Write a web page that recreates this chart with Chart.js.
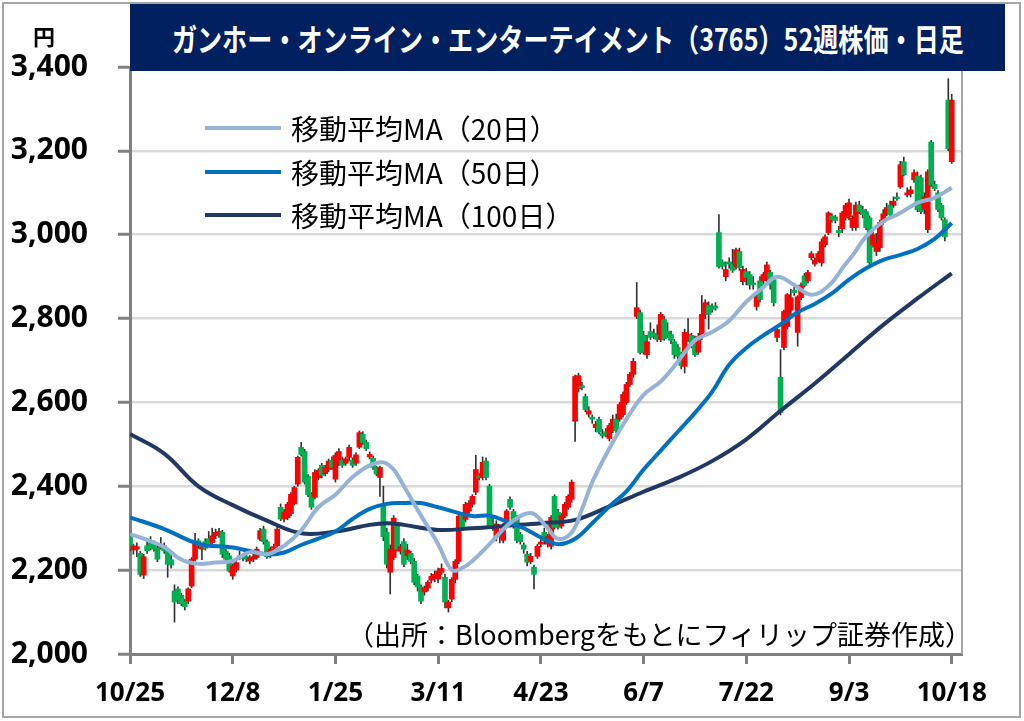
<!DOCTYPE html>
<html lang="ja">
<head>
<meta charset="utf-8">
<title>ガンホー・オンライン・エンターテイメント 52週株価</title>
<script src="https://cdn.jsdelivr.net/npm/chart.js@4.4.1/dist/chart.umd.min.js"></script>
<style>
  html, body { margin: 0; padding: 0; background: #fff; }
  #wrap { position: relative; width: 1024px; height: 721px; overflow: hidden; font-family: 'Noto Sans CJK JP', sans-serif; color: #000; }
  #chart { position: absolute; left: 0; top: 0; }
  #frame { position: absolute; left: 2px; top: 2px; width: 1019px; height: 716px; box-sizing: border-box; border: 2px solid #a6a6a6; pointer-events: none; }
  #title { position: absolute; left: 130px; top: 4px; width: 875px; height: 67px; background: #002060; color: #fff; display: flex; align-items: center; justify-content: center; overflow: hidden; }
  #title span { display: inline-block; font-weight: bold; font-size: 31px; transform: scaleX(0.81); white-space: nowrap; }
  #unit { position: absolute; left: 33px; top: 24px; font-size: 22px; font-weight: bold; line-height: 1; }
  .leg { position: absolute; left: 205px; height: 32px; display: flex; align-items: center; font-size: 28px; white-space: nowrap; }
  .leg i { display: inline-block; width: 76px; height: 4px; margin-right: 10px; }
  #source { position: absolute; right: 52px; top: 618px; font-size: 27px; line-height: 32px; white-space: nowrap; }
</style>
</head>
<body>
<div id="wrap">
  <canvas id="chart" width="1024" height="721"></canvas>
  <div id="title"><span>ガンホー・オンライン・エンターテイメント（3765）52週株価・日足</span></div>
  <div id="unit">円</div>
  <div class="leg" style="top:112px"><i style="background:#95b3d7"></i>移動平均MA（20日）</div>
  <div class="leg" style="top:156px"><i style="background:#0070c0"></i>移動平均MA（50日）</div>
  <div class="leg" style="top:199px"><i style="background:#1f3864"></i>移動平均MA（100日）</div>
  <div id="source">（出所：Bloombergをもとにフィリップ証券作成）</div>
  <div id="frame"></div>
</div>
<script>
// 日足（10/25 〜 10/18、241営業日）
const opens = [
  2280,2248,2250,2240,2188,2258,2265,2262,2252,2254,
  2258,2246,2225,2150,2155,2140,2125,2126,2162,2226,
  2270,2250,2268,2275,2266,2282,2286,2290,2245,2234,
  2186,2200,2234,2234,2232,2222,2226,2230,2274,2298,
  2268,2238,2252,2258,2350,2322,2325,2335,2358,2405,
  2493,2483,2424,2380,2374,2420,2450,2430,2440,2462,
  2417,2457,2462,2455,2469,2462,2455,2493,2524,2505,
  2470,2467,2445,2421,2357,2290,2195,2230,2305,2245,
  2268,2235,2240,2221,2186,2160,2148,2157,2176,2180,
  2179,2195,2183,2110,2131,2178,2221,2329,2321,2341,
  2357,2386,2425,2421,2460,2400,2310,2280,2285,2271,
  2310,2369,2340,2326,2285,2260,2238,2220,2207,2233,
  2262,2290,2262,2257,2376,2338,2305,2329,2350,2369,
  2555,2633,2640,2614,2572,2565,2540,2560,2526,2530,
  2514,2533,2560,2560,2571,2600,2643,2667,2805,2814,
  2760,2714,2769,2765,2760,2750,2798,2770,2762,2745,
  2731,2714,2686,2752,2760,2752,2720,2757,2810,2832,
  2828,2830,3005,2935,2900,2935,2930,2924,2960,2888,
  2912,2905,2885,2829,2890,2890,2893,2910,2893,2755,
  2660,2731,2781,2820,2868,2767,2850,2902,2890,2945,
  2930,2940,2933,2976,3005,3045,3042,3010,3014,3040,
  3043,3017,3017,3071,3060,3055,3040,2976,2960,2969,
  3030,3050,3071,3070,3090,3114,3174,3095,3098,3131,
  3140,3136,3060,3012,3221,3120,3100,3070,3036,3321,
  3174
];
const highs = [
  2290,2262,2265,2245,2238,2270,2280,2270,2258,2278,
  2265,2250,2235,2165,2160,2145,2130,2158,2230,2288,
  2275,2262,2275,2292,2300,2298,2300,2295,2250,2240,
  2215,2222,2245,2240,2238,2235,2240,2255,2300,2305,
  2272,2255,2262,2305,2358,2345,2362,2385,2400,2472,
  2505,2488,2428,2385,2440,2442,2455,2450,2465,2470,
  2480,2490,2470,2470,2498,2468,2480,2532,2530,2510,
  2482,2472,2448,2448,2400,2300,2260,2330,2312,2262,
  2275,2262,2245,2228,2190,2165,2162,2175,2192,2198,
  2205,2215,2190,2128,2182,2225,2335,2335,2362,2366,
  2380,2474,2430,2470,2468,2405,2330,2318,2292,2312,
  2345,2375,2345,2330,2290,2265,2245,2240,2212,2262,
  2275,2300,2285,2330,2380,2345,2335,2362,2380,2415,
  2665,2670,2648,2620,2590,2570,2555,2565,2535,2538,
  2550,2570,2572,2600,2625,2648,2672,2705,2886,2820,
  2770,2760,2790,2775,2785,2815,2805,2790,2770,2750,
  2738,2720,2775,2800,2765,2758,2765,2855,2845,2840,
  2835,2838,3048,2940,2935,2945,2965,2968,2968,2925,
  2920,2912,2900,2865,2900,2910,2935,2915,2900,2780,
  2726,2820,2860,2870,2880,2855,2885,2908,2915,2960,
  2945,2960,2990,3000,3055,3050,3046,3020,3056,3075,
  3085,3045,3078,3080,3068,3060,3045,3005,3003,3035,
  3060,3075,3080,3090,3100,3175,3185,3112,3115,3155,
  3150,3142,3100,3155,3225,3128,3105,3075,3040,3372,
  3335
];
const lows = [
  2245,2238,2232,2185,2180,2240,2248,2245,2220,2250,
  2240,2183,2205,2076,2120,2115,2105,2120,2158,2222,
  2252,2225,2248,2260,2262,2275,2278,2230,2220,2195,
  2178,2195,2225,2222,2220,2215,2220,2226,2270,2262,
  2228,2230,2245,2255,2318,2315,2320,2330,2355,2400,
  2472,2405,2375,2345,2370,2415,2420,2425,2435,2440,
  2410,2450,2445,2450,2460,2445,2450,2490,2500,2485,
  2465,2440,2425,2376,2270,2205,2143,2225,2245,2238,
  2208,2225,2215,2165,2150,2120,2140,2150,2170,2172,
  2170,2190,2110,2100,2125,2170,2215,2295,2315,2335,
  2350,2380,2415,2415,2415,2300,2295,2270,2265,2265,
  2305,2345,2300,2265,2262,2240,2210,2215,2155,2228,
  2255,2262,2255,2250,2298,2298,2300,2325,2345,2362,
  2507,2625,2630,2578,2565,2550,2530,2525,2515,2518,
  2508,2528,2528,2555,2565,2595,2638,2660,2800,2715,
  2715,2705,2750,2752,2745,2745,2748,2755,2740,2705,
  2700,2680,2670,2745,2730,2710,2715,2750,2800,2775,
  2815,2820,2920,2918,2890,2920,2910,2918,2915,2880,
  2880,2870,2870,2820,2840,2880,2885,2870,2830,2745,
  2570,2725,2775,2810,2855,2734,2845,2875,2885,2940,
  2925,2935,2925,2970,3000,3030,3028,2995,3005,3035,
  3035,3010,3010,3050,3040,3012,2928,2970,2950,2960,
  3025,3045,3045,3065,3082,3110,3140,3090,3090,3125,
  3055,3050,3050,3005,3115,3105,3055,3035,2985,3200,
  3170
];
const closes = [
  2250,2258,2256,2190,2232,2246,2252,2250,2226,2262,
  2246,2214,2212,2124,2130,2120,2113,2155,2226,2262,
  2258,2256,2252,2262,2282,2290,2292,2238,2226,2198,
  2210,2218,2230,2228,2226,2230,2232,2250,2294,2268,
  2232,2250,2256,2298,2322,2338,2357,2381,2397,2469,
  2476,2410,2380,2350,2433,2438,2426,2445,2460,2445,
  2474,2483,2450,2466,2493,2450,2475,2528,2505,2490,
  2476,2445,2429,2445,2280,2214,2250,2324,2250,2256,
  2214,2248,2221,2171,2160,2126,2157,2171,2185,2190,
  2198,2204,2124,2124,2178,2221,2329,2298,2357,2360,
  2376,2440,2420,2457,2421,2305,2300,2310,2279,2307,
  2341,2350,2305,2271,2268,2250,2219,2233,2190,2257,
  2267,2270,2280,2326,2302,2302,2330,2357,2376,2410,
  2662,2664,2635,2583,2580,2560,2548,2529,2520,2525,
  2545,2560,2533,2595,2619,2643,2667,2698,2826,2719,
  2720,2745,2755,2758,2750,2810,2752,2762,2748,2714,
  2710,2688,2767,2762,2738,2714,2757,2810,2838,2810,
  2822,2825,2924,2925,2917,2930,2915,2964,2921,2917,
  2898,2880,2881,2857,2845,2905,2928,2880,2838,2774,
  2576,2817,2857,2850,2862,2852,2880,2879,2910,2955,
  2940,2955,2983,2995,3052,3036,3034,3005,3052,3070,
  3076,3040,3071,3055,3048,3017,2933,3000,2980,3029,
  3050,3065,3048,3080,3086,3167,3143,3100,3107,3148,
  3060,3055,3090,3150,3119,3110,3060,3040,2995,3205,
  3321
];

// 移動平均（読み取り点：営業日番号と値）
const ma20Days = [0,5,10,15,20,25,30,35,40,45,50,55,60,65,70,74,77,80,85,90,94,97,100,105,110,115,118,122,125,129,132,135,140,145,150,155,160,165,170,175,180,185,189,194,199,204,209,211,215,220,225,230,235,240];
const ma20Vals = [2286,2272,2255,2225,2215,2218,2222,2243,2238,2258,2295,2350,2380,2422,2450,2457,2440,2400,2330,2262,2200,2205,2222,2262,2305,2333,2334,2300,2275,2290,2345,2410,2490,2560,2618,2650,2697,2748,2768,2795,2840,2875,2900,2880,2857,2878,2930,2950,2996,3032,3052,3076,3088,3112];
const ma50Days = [0,10,20,30,40,45,50,55,60,65,70,75,80,85,90,100,105,110,115,120,125,130,135,140,145,150,155,160,165,170,175,180,185,190,195,200,205,210,215,220,225,230,235,240];
const ma50Vals = [2326,2298,2263,2254,2238,2242,2260,2275,2292,2322,2346,2358,2360,2360,2350,2329,2330,2316,2300,2278,2262,2275,2312,2352,2388,2440,2485,2530,2575,2625,2690,2730,2760,2786,2815,2835,2860,2893,2920,2940,2952,2966,2990,3028];
const ma100Days = [0,10,20,30,40,50,60,70,75,80,90,100,110,120,130,140,150,160,170,180,190,200,210,220,230,240];
const ma100Vals = [2525,2478,2400,2355,2318,2288,2292,2308,2312,2308,2296,2300,2306,2312,2320,2352,2387,2420,2460,2512,2580,2645,2715,2785,2848,2908];

// 目盛り
const tickDays = [0, 30, 60, 90, 120, 150, 180, 210, 240];
const tickLabels = ['10/25', '12/8', '1/25', '3/11', '4/23', '6/7', '7/22', '9/3', '10/18'];

const days = opens.map((_, i) => i);
const wickData = days.map(i => ({ x: i, y: [lows[i], highs[i]] }));
const bodyData = days.map(i => ({ x: i, y: [opens[i], closes[i]] }));
const bodyColors = days.map(i => closes[i] >= opens[i] ? '#ff0000' : '#00b050');

function maLine(label, xs, ys, color) {
  return {
    type: 'line',
    label: label,
    data: xs.map((d, k) => ({ x: d, y: ys[k] })),
    borderColor: color,
    borderWidth: 4,
    pointRadius: 0,
    tension: 0.4,
    fill: false,
    order: 0
  };
}

// 背景とプロット枠の右端
const plotFrame = {
  id: 'plotFrame',
  beforeDraw(chart) {
    const c = chart.ctx;
    c.save();
    c.fillStyle = '#ffffff';
    c.fillRect(0, 0, chart.width, chart.height);
    c.restore();
  },
  afterDraw(chart) {
    const { ctx, chartArea: a } = chart;
    ctx.save();
    ctx.strokeStyle = '#a6a6a6';
    ctx.lineWidth = 2;
    ctx.beginPath();
    ctx.moveTo(a.right, a.top);
    ctx.lineTo(a.right, a.bottom);
    ctx.stroke();
    ctx.restore();
  }
};

const ctx = document.getElementById('chart').getContext('2d');
new Chart(ctx, {
  type: 'bar',
  data: {
    datasets: [
      maLine('移動平均MA（20日）', ma20Days, ma20Vals, '#95b3d7'),
      maLine('移動平均MA（50日）', ma50Days, ma50Vals, '#0070c0'),
      maLine('移動平均MA（100日）', ma100Days, ma100Vals, '#1f3864'),
      { label: 'body', data: bodyData, backgroundColor: bodyColors, barThickness: 5, grouped: false, minBarLength: 1, order: 5 },
      { label: 'wick', data: wickData, backgroundColor: '#333333', barThickness: 1, grouped: false, order: 6 }
    ]
  },
  options: {
    responsive: false,
    animation: false,
    events: [],
    layout: { padding: { left: 0, right: 62, top: 67, bottom: 0 } },
    plugins: {
      legend: { display: false },
      tooltip: { enabled: false }
    },
    scales: {
      x: {
        type: 'linear',
        min: 0,
        max: 243,
        offset: false,
        afterBuildTicks: s => { s.ticks = tickDays.map(v => ({ value: v })); },
        afterFit: s => { s.height = 67; },
        grid: { drawOnChartArea: false, drawTicks: true, tickLength: 10, tickColor: '#808080', tickWidth: 3, offset: false },
        border: { color: '#808080', width: 3 },
        ticks: {
          autoSkip: false,
          maxRotation: 0,
          padding: 14,
          color: '#000',
          font: { family: "'Open Sans', sans-serif", size: 26, weight: 'bold' },
          callback: v => tickLabels[tickDays.indexOf(v)]
        }
      },
      y: {
        min: 2000,
        max: 3400,
        afterFit: s => { s.width = 130; },
        grid: {
          color: c => (c.tick && c.tick.value === 2000) ? 'rgba(0,0,0,0)' : '#d9d9d9',
          lineWidth: 2.5,
          tickLength: 12,
          tickColor: '#808080',
          tickWidth: 3
        },
        border: { color: '#808080', width: 3 },
        ticks: {
          stepSize: 200,
          padding: 30,
          color: '#000',
          font: { family: "'Open Sans', sans-serif", size: 30, weight: 'bold' },
          callback: v => v.toLocaleString('en-US')
        }
      }
    }
  },
  plugins: [plotFrame]
});
</script>
</body>
</html>
